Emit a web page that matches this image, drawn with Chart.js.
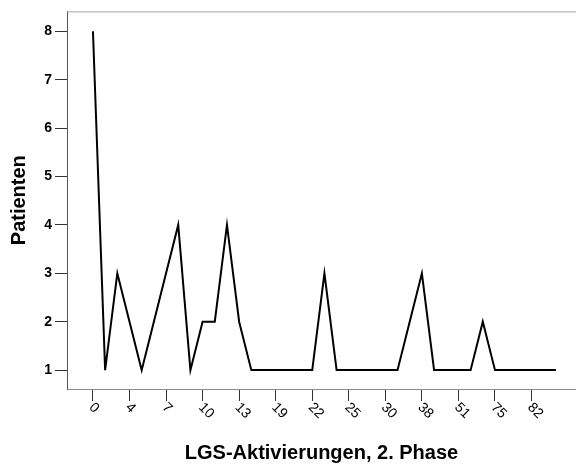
<!DOCTYPE html>
<html>
<head>
<meta charset="utf-8">
<script src="https://cdn.jsdelivr.net/npm/chart.js@4/dist/chart.umd.min.js"></script>
<style>
  body { margin: 0; background: #fff; }
  #wrap { width: 576px; height: 466px; }
</style>
</head>
<body>
<div id="wrap"><canvas id="myChart"></canvas></div>
<script>
// LGS-Aktivierungen (distinct values seen), one entry per x position
var categories = [0, 1, 2, 4, 5, 6, 7, 8, 9, 10, 11, 12, 13, 14, 16, 19, 20, 21, 22, 23,
  24, 25, 26, 28, 30, 32, 35, 38, 40, 45, 51, 57, 66, 75, 78, 80, 82, 86, 100];
// number of patients per category
var patients = [8, 1, 3, 2, 1, 2, 3, 4, 1, 2, 2, 4, 2, 1, 1, 1, 1, 1, 1, 3,
  1, 1, 1, 1, 1, 1, 2, 3, 1, 1, 1, 1, 2, 1, 1, 1, 1, 1, 1];
var yTicks = [1, 2, 3, 4, 5, 6, 7, 8];

var font = "'Liberation Sans', Arial, sans-serif";

var points = patients.map(function (v, i) { return { x: i, y: v }; });

// x tick labels are drawn rotated clockwise, starting at the tick
var rotatedLabels = {
  id: 'rotatedLabels',
  afterDraw: function (chart) {
    var ctx = chart.ctx;
    var xs = chart.scales.x;
    ctx.save();
    ctx.font = '14px ' + font;
    ctx.fillStyle = '#000';
    ctx.textAlign = 'left';
    ctx.textBaseline = 'middle';
    xs.ticks.forEach(function (t) {
      var px = xs.getPixelForValue(t.value);
      ctx.save();
      ctx.translate(px + 1, chart.chartArea.bottom + 19);
      ctx.rotate(Math.PI / 4);
      ctx.fillText(String(categories[t.value]), -4, 0);
      ctx.restore();
    });
    // top edge of the frame
    ctx.strokeStyle = '#a0a0a0';
    ctx.lineWidth = 1;
    ctx.beginPath();
    ctx.moveTo(chart.chartArea.left, chart.chartArea.top + 0.5);
    ctx.lineTo(chart.chartArea.right, chart.chartArea.top + 0.5);
    ctx.stroke();
    ctx.restore();
  }
};

new Chart('myChart', {
  type: 'line',
  data: {
    datasets: [
      {
        data: points,
        borderColor: '#000',
        borderWidth: 2,
        pointRadius: 0,
        tension: 0,
        fill: false
      }
    ]
  },
  options: {
    responsive: true,
    maintainAspectRatio: false,
    animation: false,
    layout: { padding: { top: 10, right: 0, left: 0, bottom: 0 } },
    plugins: {
      legend: { display: false },
      tooltip: { enabled: false }
    },
    scales: {
      x: {
        type: 'linear',
        min: -2.13,
        max: 39.65,
        afterBuildTicks: function (scale) {
          scale.ticks = categories
            .map(function (c, i) { return { value: i }; })
            .filter(function (t) { return t.value % 3 === 0 && t.value <= 36; });
        },
        afterFit: function (scale) { scale.height = 77; },
        ticks: { display: false, stepSize: 3 },
        grid: {
          drawOnChartArea: false,
          drawTicks: true,
          tickLength: 12,
          color: '#333'
        },
        border: { color: '#8a8a8a', width: 1 },
        title: {
          display: true,
          text: 'LGS-Aktivierungen, 2. Phase',
          color: '#000',
          font: { family: font, size: 20, weight: 'bold', lineHeight: 1.2 },
          padding: { top: 0, bottom: 1 }
        }
      },
      y: {
        min: 0.61,
        max: 8.41,
        afterBuildTicks: function (scale) {
          scale.ticks = yTicks.map(function (v) { return { value: v }; });
        },
        afterFit: function (scale) { scale.width = 67; },
        ticks: {
          color: '#000',
          padding: 3,
          font: { family: font, size: 14, weight: 'bold' }
        },
        grid: {
          drawOnChartArea: false,
          drawTicks: true,
          tickLength: 12,
          color: '#333'
        },
        border: { color: '#555', width: 1 },
        title: {
          display: true,
          text: 'Patienten',
          color: '#000',
          font: { family: font, size: 20, weight: 'bold', lineHeight: 1.2 },
          padding: { top: 7, bottom: 0 }
        }
      }
    }
  },
  plugins: [rotatedLabels]
});
</script>
</body>
</html>
